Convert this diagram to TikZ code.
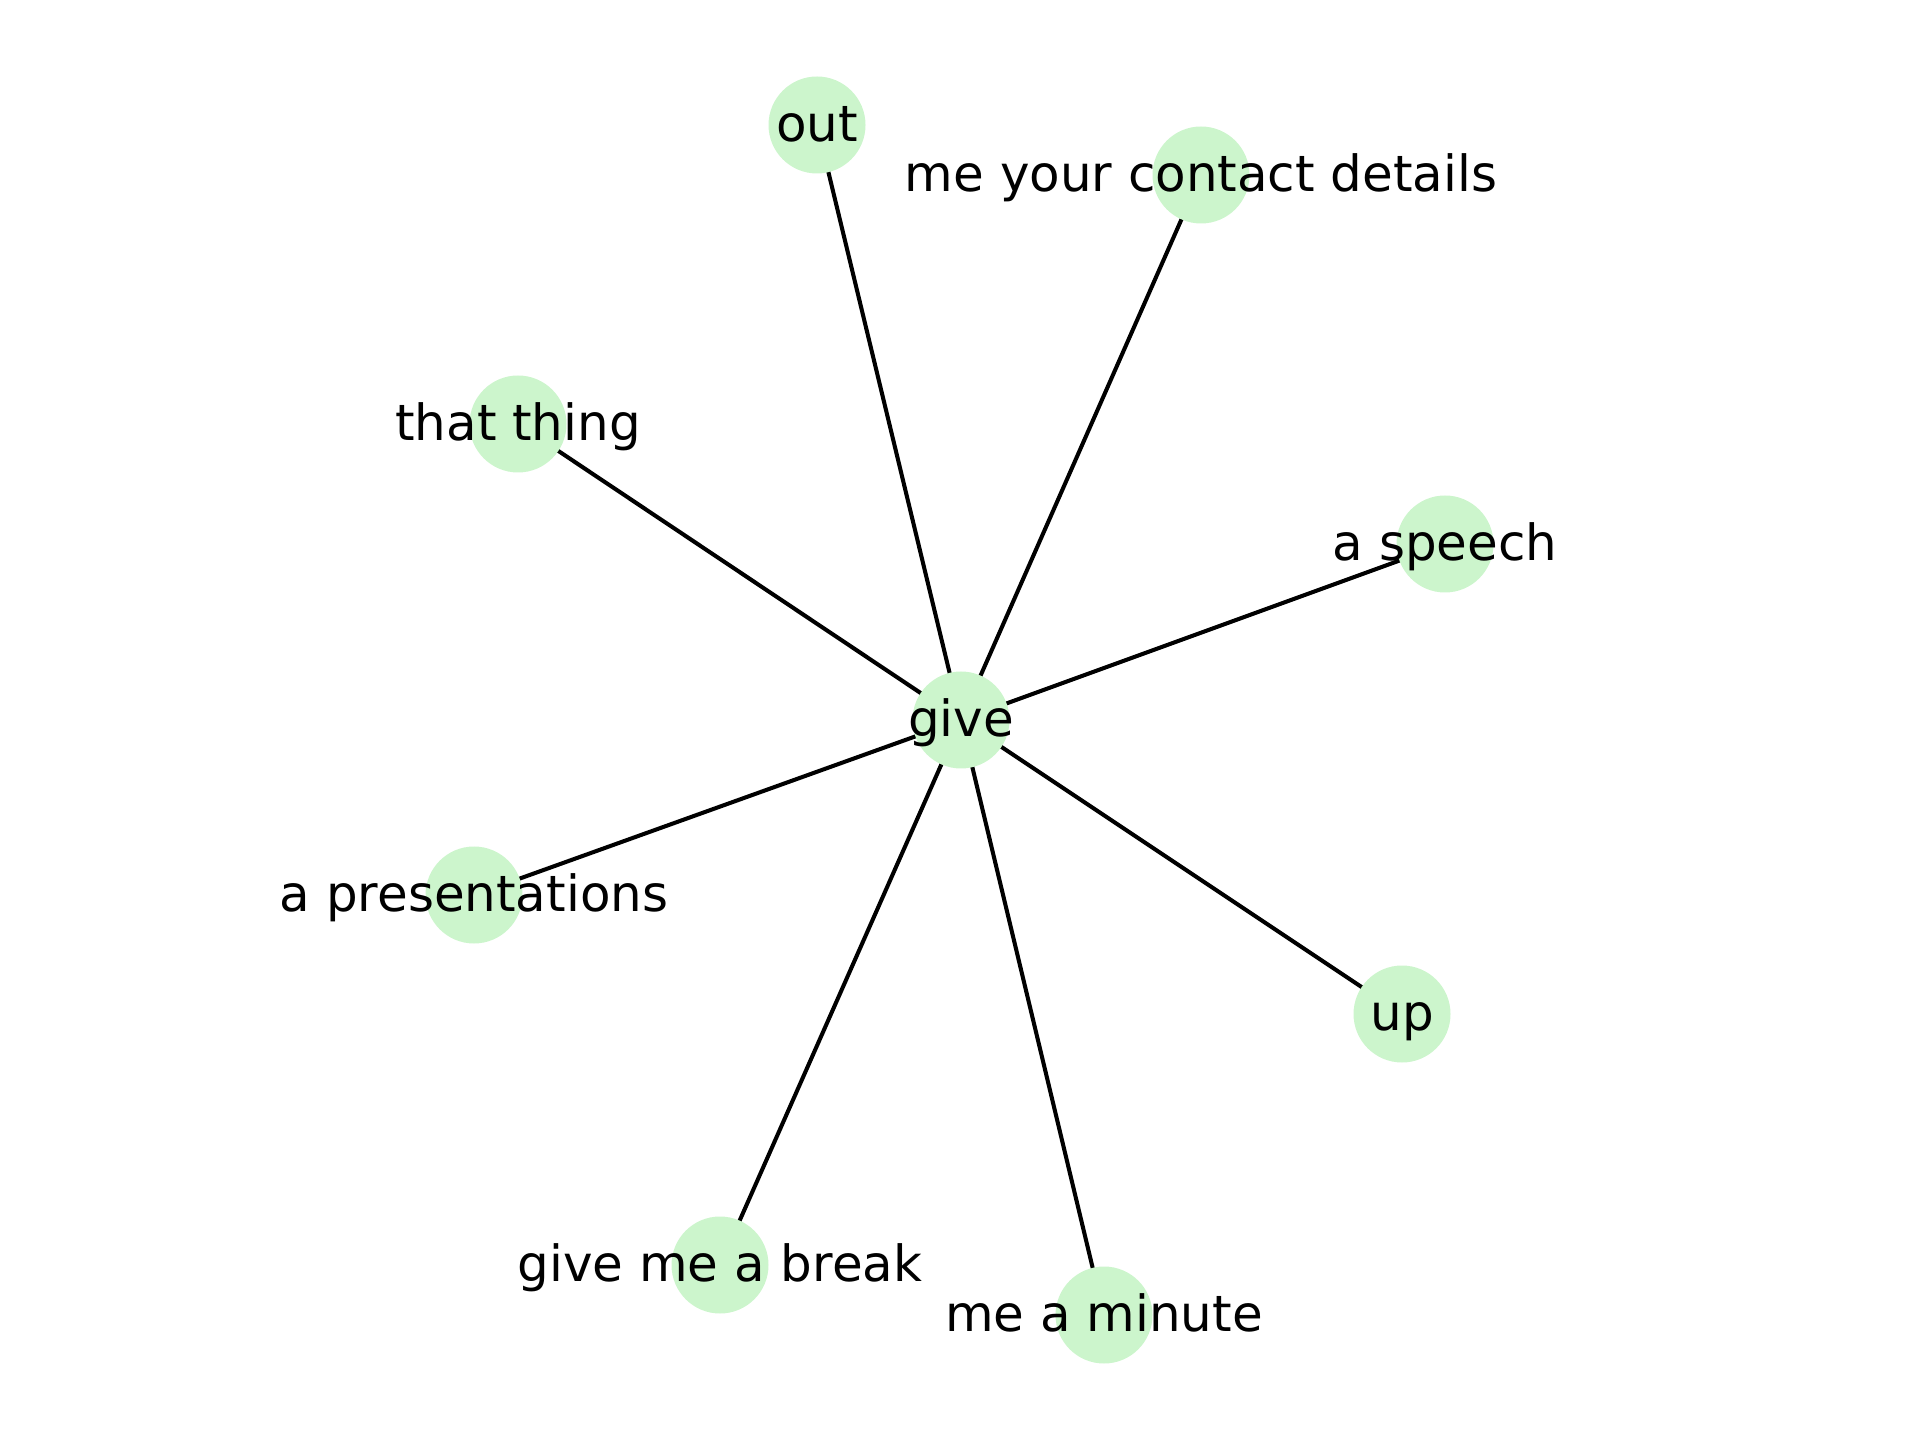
\documentclass[tikz,border=0pt]{standalone}
\usepackage{fontspec}
\setmainfont{DejaVu Sans}
\usepackage{xcolor}
\definecolor{nodegreen}{RGB}{204,245,204}
\usepackage{tikz}
\usetikzlibrary{backgrounds}
\tikzset{
  vert/.style={circle,fill=nodegreen,draw=none,
    minimum size=0.97cm,inner sep=0pt,
    text height=0.415cm,text depth=0.081cm,
    font=\fontsize{14.2}{17}\selectfont},
  edge/.style={draw=black,line width=1.15pt},
}
% label text may run wider than its circle
\newcommand{\nlab}[1]{\makebox[0pt]{#1}}

\begin{document}
\begin{tikzpicture}
  \useasboundingbox (0,0) rectangle (19.2,14.4);
  % --- Centre word ---
  \node (give) [vert] at (9.61,7.20) {\nlab{give}};

  % --- Leaves ---
  \node (out)     [vert] at (8.17,13.15) {\nlab{out}};
  \node (contact) [vert] at (12.01,12.65) {\nlab{me your contact details}};
  \node (thing)   [vert] at (5.18,10.16) {\nlab{that thing}};
  \node (speech)  [vert] at (14.45,8.96) {\nlab{a speech}};
  \node (pres)    [vert] at (4.74,5.45)  {\nlab{a presentations}};
  \node (up)      [vert] at (14.02,4.26) {\nlab{up}};
  \node (break)   [vert] at (7.20,1.75)  {\nlab{give me a break}};
  \node (minute)  [vert] at (11.04,1.25) {\nlab{me a minute}};

  % --- Edges (behind the circles) ---
  \begin{pgfonlayer}{background}
    \foreach \leaf in {out,contact,thing,speech,pres,up,break,minute}
      \draw[edge] (give.center) -- (\leaf.center);
  \end{pgfonlayer}
\end{tikzpicture}
\end{document}
